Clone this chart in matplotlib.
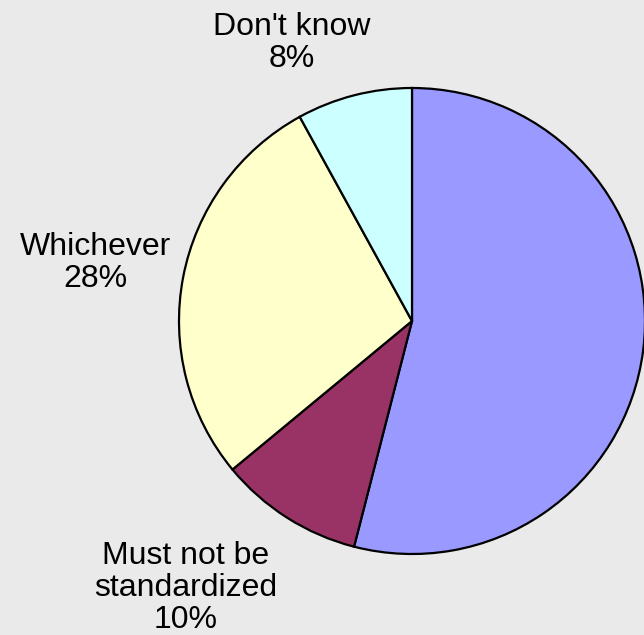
import matplotlib
matplotlib.use("Agg")
import matplotlib.pyplot as plt

# answer shares, clockwise from 12 o'clock
categories = ["Must be standardized", "Must not be\nstandardized", "Whichever", "Don't know"]
shares = [54, 10, 28, 8]
colors = ["#9999FF", "#993366", "#FFFFCC", "#CCFFFF"]
show_label = [False, True, True, True]

W, H = 644, 635
fig = plt.figure(figsize=(W / 100, H / 100), dpi=100, facecolor="#EAEAEA")
ax = fig.add_axes([0, 0, 1, 1])

ax.pie(shares, colors=colors, startangle=90, counterclock=False,
       center=(412, H - 321), radius=233, frame=True,
       wedgeprops=dict(edgecolor="black", linewidth=1.6))
ax.set_xlim(0, W)
ax.set_ylim(0, H)
ax.set_aspect("equal")
ax.axis("off")

# label anchors (pixels, top-left origin)
label_pos = [(700, 320), (186, 588), (95, 263), (292, 43)]
for cat, val, show, (x, y) in zip(categories, shares, show_label, label_pos):
    if not show:
        continue
    ax.text(x, H - y, f"{cat}\n{val}%", ha="center", va="center",
            fontsize=23, family="Liberation Sans", linespacing=1.08)

fig.savefig("out.png", dpi=100, facecolor=fig.get_facecolor())
